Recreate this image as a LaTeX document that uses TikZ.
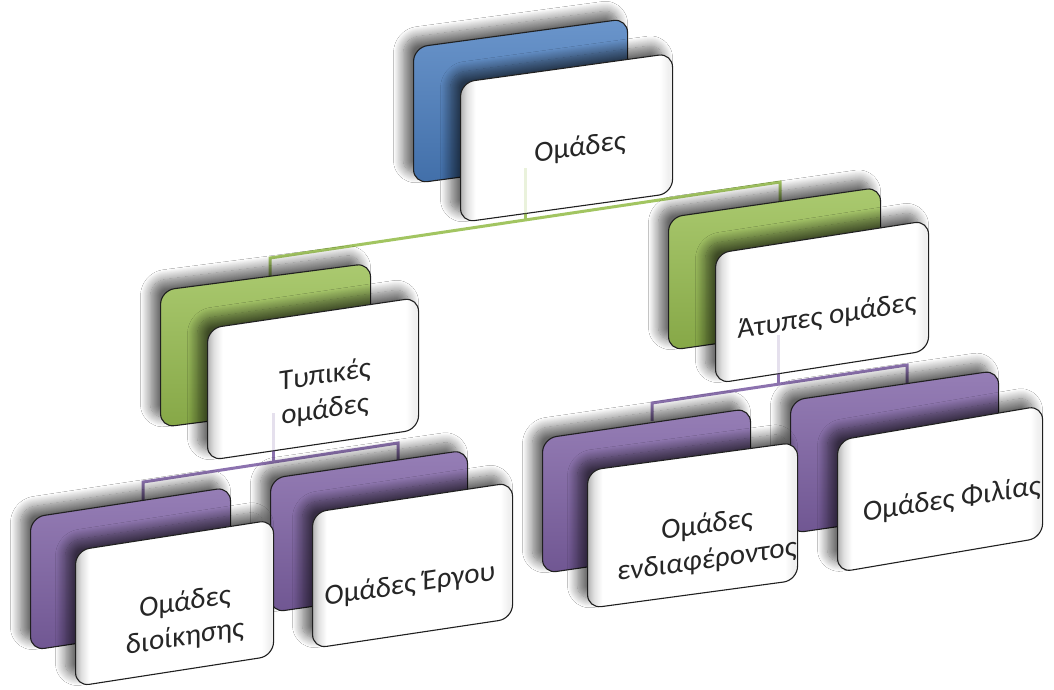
\documentclass[tikz,border=0pt]{standalone}
\usepackage{fontspec}
\setmainfont{Carlito}
\usetikzlibrary{shadows.blur}
\definecolor{cblue}{HTML}{4A7EC0}
\definecolor{cgreen}{HTML}{98BE50}
\definecolor{cpurple}{HTML}{7F62A6}
\definecolor{ctext}{HTML}{262626}
\definecolor{cedge}{HTML}{202020}
\pgfdeclarehorizontalshading{wface}{100bp}{color(0bp)=(black!32); color(25bp)=(black!30); color(26.5bp)=(black!12); color(28.5bp)=(white); color(72bp)=(white); color(74bp)=(black!6); color(100bp)=(black!6)}
\tikzset{
  x=1pt, y=-1pt,
  boxbase/.style={rounded corners=14pt, draw=cedge, line width=1.1pt, inner sep=0pt, anchor=north west,
    blur shadow={shadow xshift=-10pt, shadow yshift=9pt, shadow blur radius=10pt, shadow blur steps=14, shadow opacity=60}},
  bblue/.style={boxbase, top color=cblue!82!white, middle color=cblue, bottom color=cblue!88!black},
  bgreen/.style={boxbase, top color=cgreen!82!white, middle color=cgreen, bottom color=cgreen!88!black},
  bpurple/.style={boxbase, top color=cpurple!82!white, middle color=cpurple, bottom color=cpurple!88!black},
  fbox/.style={boxbase, shading=wface},
  lbl/.style={font=\fontsize{29}{35}\selectfont, text=ctext, align=center, inner sep=0pt},
  gconn/.style={draw=cgreen!90!white, line width=3pt},
  pconn/.style={draw=cpurple!90!white, line width=3pt},
  faint/.style={opacity=0.22}
}
\begin{document}
\begin{tikzpicture}
\useasboundingbox (0,0) rectangle (1054,689);
\fill[white] (0,0) rectangle (1054,689);

% connector points
\coordinate (g0) at (525,168); \coordinate (gm) at (525,220);
\coordinate (g1) at (270,277); \coordinate (g2) at (270,258);
\coordinate (g3) at (780,182); \coordinate (g4) at (780,202);
\coordinate (p0) at (273,413); \coordinate (pm) at (273,462);
\coordinate (p1) at (143,500); \coordinate (p2) at (143,482);
\coordinate (p3) at (398,443); \coordinate (p4) at (398,460);
\coordinate (q0) at (778,335); \coordinate (qm) at (778,384);
\coordinate (q1) at (652,421); \coordinate (q2) at (652,403);
\coordinate (q3) at (907,365); \coordinate (q4) at (907,383);

\draw[gconn] (g1) -- (g2) -- (g3) -- (g4);
\draw[gconn] (g0) -- (gm);
\draw[pconn] (p1) -- (p2) -- (p3) -- (p4);
\draw[pconn] (p0) -- (pm);
\draw[pconn] (q1) -- (q2) -- (q3) -- (q4);
\draw[pconn] (q0) -- (qm);

% back boxes
\node[bblue, yslant=0.135, minimum width=214pt, minimum height=136pt] (rootB) at (413,47) {};
\node[bgreen, yslant=0.13, minimum width=210pt, minimum height=137pt] (formB) at (160,290) {};
\node[bgreen, yslant=0.143, minimum width=212pt, minimum height=133pt] (inforB) at (668,217) {};
\node[bpurple, yslant=0.152, minimum width=200pt, minimum height=133pt] (admB) at (30,517) {};
\node[bpurple, yslant=0.145, minimum width=197pt, minimum height=134pt] (workB) at (270,478) {};
\node[bpurple, yslant=0.145, minimum width=208pt, minimum height=135pt] (intB) at (542,438) {};
\node[bpurple, yslant=0.145, minimum width=208pt, minimum height=133pt] (frB) at (790,400) {};

% front boxes
\node[fbox, yslant=0.138, minimum width=212pt, minimum height=140pt] (rootF) at (460,82) {};
\node[fbox, yslant=0.147, minimum width=211pt, minimum height=132pt] (formF) at (207,328) {};
\node[fbox, yslant=0.155, minimum width=213pt, minimum height=130pt] (inforF) at (715,253) {};
\node[fbox, yslant=0.155, minimum width=198pt, minimum height=136pt] (admF) at (75,550) {};
\node[fbox, yslant=0.15, minimum width=200pt, minimum height=136pt] (workF) at (312,512) {};
\node[fbox, yslant=0.135, minimum width=210pt, minimum height=138pt] (intF) at (587,470) {};
\node[fbox, yslant=0.17, minimum width=205pt, minimum height=132pt] (frF) at (837,440) {};

% faint stubs seen through the front boxes
\draw[gconn, faint] (g0) -- (gm);
\draw[pconn, faint] (p0) -- (pm);
\draw[pconn, faint] (q0) -- (qm);

% labels
\node[lbl, yslant=0.14] (rootT) at (580,148) {Ομάδες};
\node[lbl, yslant=0.15] (formT) at (325,393) {Τυπικές\\ομάδες};
\node[lbl, yslant=0.155] (inforT) at (827,317) {Άτυπες ομάδες};
\node[lbl, yslant=0.155] (admT) at (185,620) {Ομάδες\\διοίκησης};
\node[lbl, yslant=0.15] (workT) at (410,585) {Ομάδες Έργου};
\node[lbl, yslant=0.14] (intT) at (707,543) {Ομάδες\\ενδιαφέροντος};
\node[lbl, yslant=0.15] (frT) at (952,500) {Ομάδες Φιλίας};
\end{tikzpicture}
\end{document}
